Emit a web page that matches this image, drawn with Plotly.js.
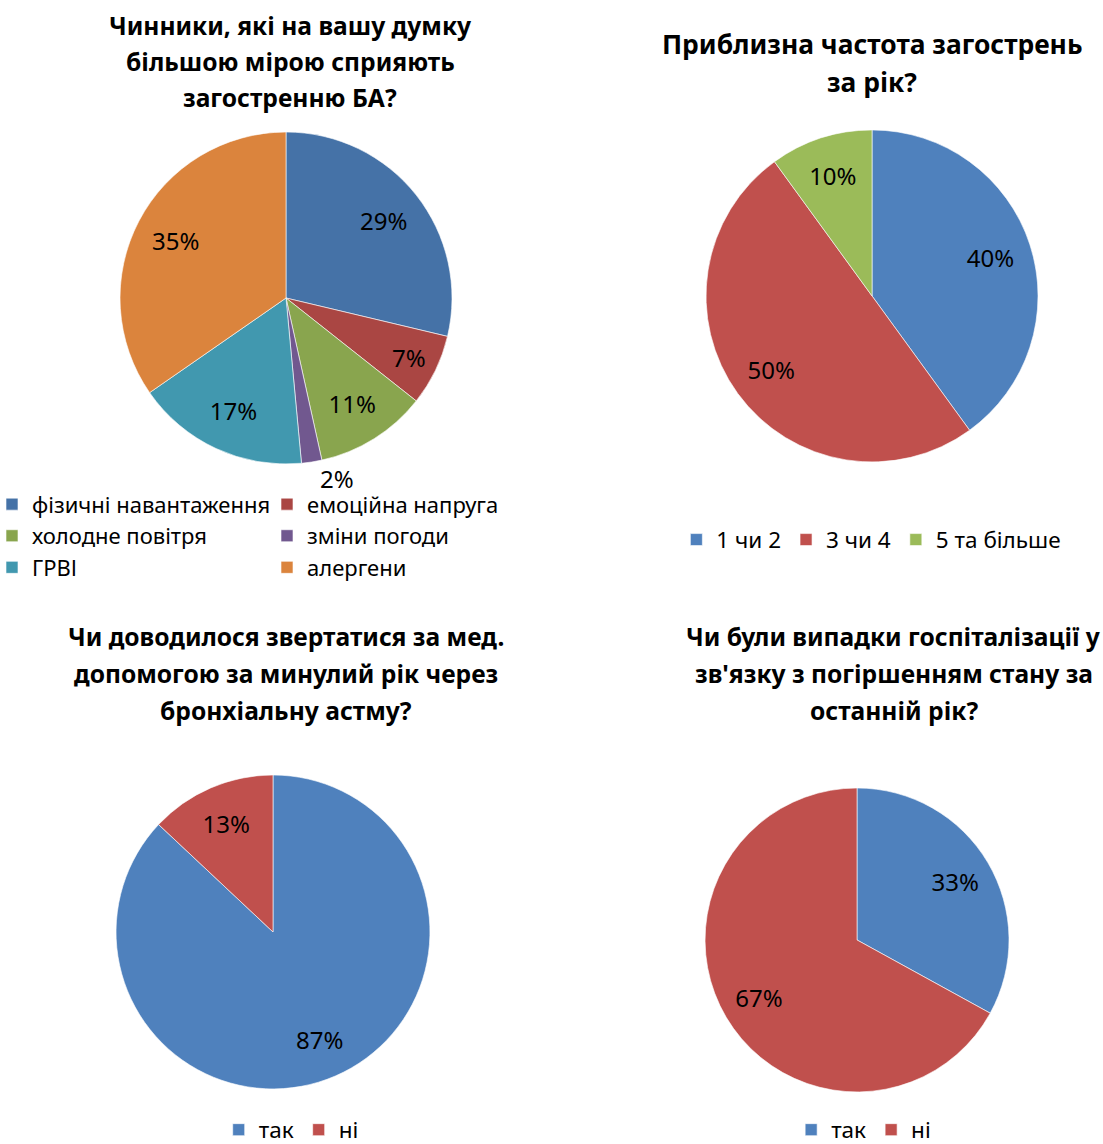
<!DOCTYPE html>
<html>
<head>
<meta charset="utf-8">
<script src="https://cdn.plot.ly/plotly-3.0.1.min.js"></script>
<style>html,body{margin:0;padding:0;background:#fff}#chart{width:1103px;height:1144px}</style>
</head>
<body>
<div id="chart"></div>
<script>
// ---- data ----
const title1 = ["Чинники, які на вашу думку", "більшою мірою сприяють", "загостренню БА?"];
const labels1 = ["фізичні навантаження", "емоційна напруга", "холодне повітря", "зміни погоди", "ГРВІ", "алергени"];
const values1 = [29, 7, 11, 2, 17, 35];

const title2 = ["Приблизна частота загострень", "за рік?"];
const labels2 = ["1 чи 2", "3 чи 4", "5 та більше"];
const values2 = [40, 50, 10];

const title3 = ["Чи доводилося звертатися за мед.", "допомогою за минулий рік через", "бронхіальну астму?"];
const labels3 = ["так", "ні"];
const values3 = [87, 13];

const title4 = ["Чи були випадки госпіталізації у", "зв'язку з погіршенням стану за", "останній рік?"];
const labels4 = ["так", "ні"];
const values4 = [33, 67];

// ---- styles ----
const FONT = "Noto Sans, Open Sans, sans-serif";
const colors1 = ["#4572a7", "#aa4643", "#89a54e", "#71588f", "#4198af", "#db843d"];
const colors2 = ["#4f81bd", "#c0504d", "#9bbb59"];
const colorsYN = ["#4f81bd", "#c0504d"];
const lbl = {family: FONT, size: 24, color: "#000"};
const H = 1144;

// base pie: coloured slices + legend entries
function pie(labels, values, colors, domain, legend, group) {
  return {
    type: "pie", labels: labels, values: values, sort: false, direction: "clockwise", rotation: 0,
    marker: {colors: colors, line: {color: "#ffffff", width: 0.6}},
    domain: domain, legend: legend, legendgroup: group,
    textinfo: "none", textposition: "none", hoverinfo: "label+value", automargin: false
  };
}
// label layer: same slices, transparent, ring geometry puts the data labels further out (like Excel)
function labelsLayer(labels, values, domain, legend, group, positions) {
  return {
    type: "pie", labels: labels, values: values, sort: false, direction: "clockwise", rotation: 0,
    hole: 0.5, showlegend: false, legend: legend, legendgroup: group,
    marker: {colors: labels.map(() => "rgba(0,0,0,0)"), line: {width: 0}},
    domain: domain,
    texttemplate: "%{value}%", textinfo: "text",
    textposition: positions || "inside", insidetextorientation: "horizontal",
    textfont: lbl, insidetextfont: lbl, outsidetextfont: lbl,
    hoverinfo: "skip", automargin: false
  };
}

const dom1 = {x: [0.1088, 0.4098], y: [0.5944, 0.8846]};
const dom2 = {x: [0.6401, 0.9411], y: [0.5962, 0.8864]};
const dom3 = {x: [0.1052, 0.3898], y: [0.0481, 0.3226]};
const dom4 = {x: [0.6392, 0.9148], y: [0.0455, 0.3112]};

const data = [
  pie(labels1, values1, colors1, dom1, "legend", "g1"),
  pie(labels2, values2, colors2, dom2, "legend2", "g2"),
  pie(labels3, values3, colorsYN, dom3, "legend3", "g3"),
  pie(labels4, values4, colorsYN, dom4, "legend4", "g4"),
  labelsLayer(labels1, values1, dom1, "legend", "g1", ["inside", "inside", "inside", "outside", "inside", "inside"]),
  labelsLayer(labels2, values2, dom2, "legend2", "g2"),
  labelsLayer(labels3, values3, dom3, "legend3", "g3"),
  labelsLayer(labels4, values4, dom4, "legend4", "g4")
];

const legFont = {family: FONT, size: 22.5, color: "#000"};
const legFont1 = {family: FONT, size: 22, color: "#000"};
const tf = (s) => ({family: FONT, size: s, color: "#000", weight: "bold"});
const NOBG = "rgba(0,0,0,0)";

function titleLines(lines, x, firstY, step, size) {
  return lines.map((t, i) => ({
    text: "<b>" + t + "</b>", x: x, y: 1 - (firstY + i * step) / H, xref: "paper", yref: "paper",
    xanchor: "center", yanchor: "middle", showarrow: false, font: tf(size), align: "center"
  }));
}

const layout = {
  width: 1103, height: 1144,
  margin: {l: 0, r: 0, t: 0, b: 0, autoexpand: false},
  paper_bgcolor: "#fff", plot_bgcolor: "#fff",
  showlegend: true,
  legend: {orientation: "h", x: -0.00725, xanchor: "left", y: 0.5775, yanchor: "top", traceorder: "normal",
           font: legFont1, entrywidth: 230, entrywidthmode: "pixels", tracegroupgap: 0, bgcolor: NOBG},
  legend2: {orientation: "h", x: 0.79, xanchor: "center", y: 0.528, yanchor: "middle", traceorder: "normal", font: legFont, bgcolor: NOBG},
  legend3: {orientation: "h", x: 0.264, xanchor: "center", y: 0.0122, yanchor: "middle", traceorder: "normal", font: legFont, bgcolor: NOBG},
  legend4: {orientation: "h", x: 0.783, xanchor: "center", y: 0.0122, yanchor: "middle", traceorder: "normal", font: legFont, bgcolor: NOBG},
  annotations: [].concat(
    titleLines(title1, 0.263, 26, 36, 24.6),
    titleLines(title2, 0.7906, 44, 38, 26.4),
    titleLines(title3, 0.2593, 636, 37, 24.6),
    titleLines(title4, 0.8105, 636, 37, 24.6)
  )
};

Plotly.newPlot("chart", data, layout, {displayModeBar: false, staticPlot: true});
</script>
</body>
</html>
